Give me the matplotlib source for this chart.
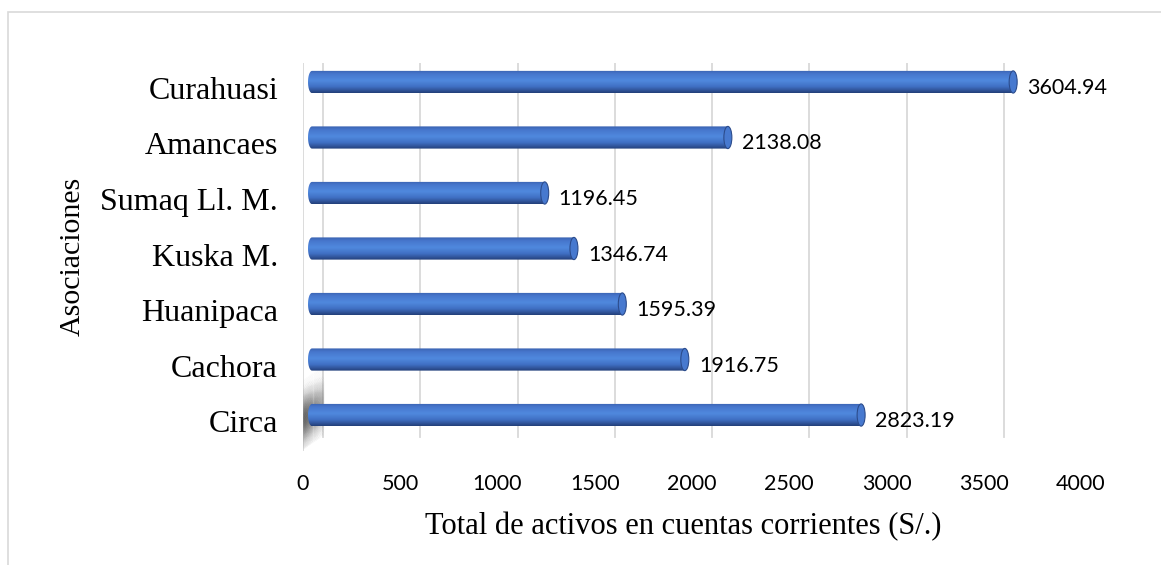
import matplotlib
matplotlib.use("Agg")
import matplotlib.pyplot as plt
import matplotlib.transforms as mtransforms
from matplotlib.colors import LinearSegmentedColormap
from matplotlib.patches import Ellipse, PathPatch, Rectangle
from matplotlib.path import Path
from matplotlib.collections import LineCollection
import numpy as np

# ---------------------------------------------------------
# DATA
# ---------------------------------------------------------
asociaciones = ['Circa', 'Cachora', 'Huanipaca', 'Kuska M.', 'Sumaq Ll. M.', 'Amancaes', 'Curahuasi']
activos = [2823.19, 1916.75, 1595.39, 1346.74, 1196.45, 2138.08, 3604.94]
x_ticks = [0, 500, 1000, 1500, 2000, 2500, 3000, 3500, 4000]

W, H = 1161, 565
fig = plt.figure(figsize=(W / 100, H / 100), dpi=100)

# front plane of the fake 3D box (pixels from top-left)
left_px, right_px, top_px, bottom_px = 303, 1081, 63, 451
ax = fig.add_axes([left_px / W, (H - bottom_px) / H,
                   (right_px - left_px) / W, (bottom_px - top_px) / H])
ax.patch.set_alpha(0)
for s in ax.spines.values():
    s.set_visible(False)

XMAX = 4000
YLIM = (-0.54, 6.45)

# depth offsets in pixels (back wall and bar plane)
back = mtransforms.offset_copy(ax.transData, fig=fig, x=20, y=14, units='dots')
mid = mtransforms.offset_copy(ax.transData, fig=fig, x=9, y=6, units='dots')

grid_c = '#d9d9d9'
for t in x_ticks:
    ax.plot([t, t], YLIM, color=grid_c, lw=1.3, transform=back, zorder=1)
    # floor diagonal from back wall to front
    p_back = back.transform((t, YLIM[0]))
    p_front = ax.transData.transform((t, YLIM[0]))
    ax.add_line(plt.Line2D([p_back[0], p_front[0]], [p_back[1], p_front[1]],
                           color=grid_c, lw=1.3, transform=None, zorder=1))
# front edge of the left wall
ax.plot([0, 0], YLIM, color=grid_c, lw=1.3, zorder=1)

# shadow on the left wall near the bottom bar
for f in np.linspace(0, 1, 60):
    tr = mtransforms.offset_copy(ax.transData, fig=fig, x=20 * f, y=14 * f, units='dots')
    ys = np.linspace(-0.5, 0.75, 50)
    segs = [[(0, ys[k]), (0, ys[k + 1])] for k in range(len(ys) - 1)]
    mids = (ys[:-1] + ys[1:]) / 2
    dark = np.exp(-((mids - 0.05) / 0.33) ** 2) * (0.3 - 0.2 * f)
    cols = [(0.2, 0.2, 0.2, d) for d in dark]
    ax.add_collection(LineCollection(segs, colors=cols, lw=1.0, transform=tr, zorder=2))

# cylinder-like bars
cyl = LinearSegmentedColormap.from_list('cyl', [
    (0.0, '#3a62b0'), (0.15, '#4676cc'), (0.45, '#5089de'),
    (0.72, '#4070c4'), (0.9, '#2f5296'), (1.0, '#223f78')])
grad = np.linspace(0, 1, 64).reshape(-1, 1)
bar_h = 0.40
r = 4 / (778 / XMAX)  # cap half-width in data units

for i, v in enumerate(activos):
    y0, y1 = i - bar_h / 2, i + bar_h / 2
    th = np.linspace(np.pi / 2, 3 * np.pi / 2, 30)
    verts = [(r * np.cos(a), i + bar_h / 2 * np.sin(a)) for a in th]
    verts += [(v, y0), (v, y1), (0, y1)]
    clip = PathPatch(Path(verts), transform=mid, facecolor='none', edgecolor='none')
    ax.add_patch(clip)
    im = ax.imshow(grad, extent=(-r, v, y0, y1), aspect='auto', cmap=cyl,
                   origin='upper', interpolation='bicubic', transform=mid, zorder=3)
    im.set_clip_path(clip)
    ax.add_patch(Ellipse((v, i), 2 * r, bar_h, transform=mid, facecolor='#4779cf',
                         edgecolor='#2c4c8c', lw=0.8, zorder=4))
    lbl_tr = mtransforms.offset_copy(ax.transData, fig=fig, x=23, y=0, units='dots')
    ax.text(v, i, f'{v:.2f}', transform=lbl_tr, ha='left', va='center',
            family='Lato', fontsize=15.5, color='#000000', zorder=5)

ax.set_xlim(0, XMAX)
ax.set_ylim(*YLIM)
ax.set_xticks(x_ticks)
ax.set_xticklabels([str(t) for t in x_ticks], family='Lato', fontsize=15.5)
ax.set_yticks(range(len(asociaciones)))
ax.set_yticklabels(asociaciones, family='Liberation Serif', fontsize=23)
ax.tick_params(axis='x', length=0, pad=16.5)
ax.tick_params(axis='y', length=0, pad=18)

fig.text(683 / W, 1 - 527 / H, 'Total de activos en cuentas corrientes (S/.)',
         family='Liberation Serif', fontsize=22, ha='center', va='center')
fig.text(73 / W, 1 - 256 / H, 'Asociaciones', family='Liberation Serif',
         fontsize=21.5, rotation=90, ha='center', va='center')

# chart frame
fig.add_artist(Rectangle((8 / W, -0.1), 1.2, (H - 12) / H + 0.1, transform=fig.transFigure,
                         fill=False, edgecolor='#d9d9d9', lw=1.2))

fig.savefig('out.png', dpi=100)
